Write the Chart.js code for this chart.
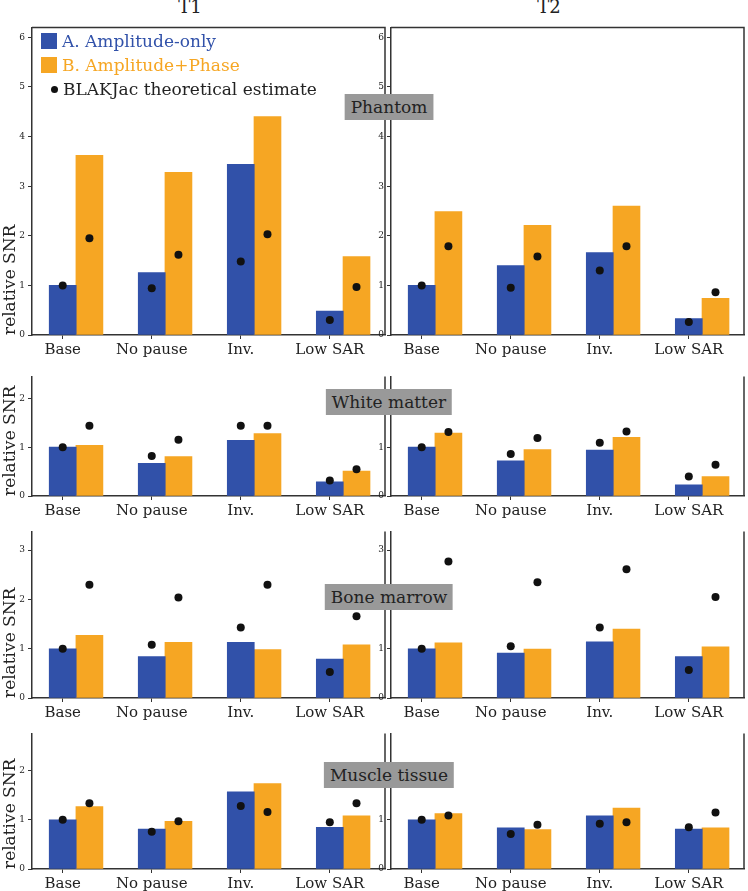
<!DOCTYPE html>
<html>
<head>
<meta charset="UTF-8">
<title>Relative SNR</title>
<script src="https://cdn.jsdelivr.net/npm/chart.js"></script>
<style>
  body {
    margin: 0;
    width: 748px;
    height: 891px;
    position: relative;
    overflow: hidden;
    background: #fff;
    font-family: 'DejaVu Serif', serif;
    color: #222;
  }
  .panel { position: absolute; }
  .coltitle {
    position: absolute;
    top: -3px;
    font-size: 18px;
    line-height: 20px;
    transform: translateX(-50%);
  }
  .tag {
    position: absolute;
    background: #999;
    font-size: 17px;
    height: 26px;
    line-height: 26px;
    padding: 0 6px;
    transform: translateX(-50%);
    white-space: nowrap;
    z-index: 5;
  }
  #legend {
    position: absolute;
    left: 41px;
    top: 33px;
    font-size: 17px;
    z-index: 5;
  }
  .lrow { display: flex; align-items: center; height: 16px; margin-bottom: 8px; }
  .swatch { width: 16px; height: 16px; margin-right: 5px; }
  .dot { width: 7px; height: 7px; border-radius: 50%; background: #111; margin: 0 5px 0 10px; }
</style>
</head>
<body>
  <div class="coltitle" style="left:190px">T1</div>
  <div class="coltitle" style="left:549px">T2</div>
  <div id="legend"></div>

  <script>
    const categories = ['Base', 'No pause', 'Inv.', 'Low SAR'];
    const seriesNames = ['A. Amplitude-only', 'B. Amplitude+Phase', 'BLAKJac theoretical estimate'];
    const tissues = ['Phantom', 'White matter', 'Bone marrow', 'Muscle tissue'];

    // measured relative SNR (bars) and theoretical estimates (dots)
    const phantomT1Amp      = [1.00, 1.26, 3.44, 0.48];
    const phantomT1Phase    = [3.62, 3.28, 4.40, 1.58];
    const phantomT1EstAmp   = [1.00, 0.94, 1.48, 0.30];
    const phantomT1EstPhase = [1.95, 1.62, 2.03, 0.97];
    const phantomT2Amp      = [1.00, 1.40, 1.66, 0.33];
    const phantomT2Phase    = [2.49, 2.21, 2.60, 0.74];
    const phantomT2EstAmp   = [1.00, 0.95, 1.30, 0.26];
    const phantomT2EstPhase = [1.79, 1.58, 1.79, 0.86];

    const wmT1Amp      = [1.00, 0.67, 1.14, 0.29];
    const wmT1Phase    = [1.04, 0.81, 1.28, 0.51];
    const wmT1EstAmp   = [1.00, 0.82, 1.44, 0.32];
    const wmT1EstPhase = [1.44, 1.15, 1.44, 0.55];
    const wmT2Amp      = [1.00, 0.72, 0.94, 0.23];
    const wmT2Phase    = [1.29, 0.95, 1.20, 0.40];
    const wmT2EstAmp   = [1.00, 0.86, 1.09, 0.40];
    const wmT2EstPhase = [1.31, 1.19, 1.32, 0.64];

    const bmT1Amp      = [1.00, 0.84, 1.13, 0.79];
    const bmT1Phase    = [1.27, 1.13, 0.98, 1.08];
    const bmT1EstAmp   = [1.00, 1.08, 1.43, 0.53];
    const bmT1EstPhase = [2.30, 2.04, 2.30, 1.66];
    const bmT2Amp      = [1.00, 0.91, 1.14, 0.84];
    const bmT2Phase    = [1.12, 0.99, 1.40, 1.04];
    const bmT2EstAmp   = [1.00, 1.05, 1.43, 0.57];
    const bmT2EstPhase = [2.77, 2.35, 2.61, 2.05];

    const muT1Amp      = [1.00, 0.81, 1.57, 0.85];
    const muT1Phase    = [1.27, 0.97, 1.74, 1.08];
    const muT1EstAmp   = [1.00, 0.76, 1.28, 0.95];
    const muT1EstPhase = [1.34, 0.97, 1.16, 1.34];
    const muT2Amp      = [1.00, 0.84, 1.08, 0.81];
    const muT2Phase    = [1.13, 0.80, 1.24, 0.84];
    const muT2EstAmp   = [1.00, 0.71, 0.92, 0.85];
    const muT2EstPhase = [1.09, 0.90, 0.95, 1.15];

    const BLUE = '#3151a9';
    const ORANGE = '#f6a623';
    const SHIFT = 0.3;   // orange bar sits one bar width right of the tick
    const FONT = 'DejaVu Serif';

    // plot-area geometry in page pixels
    const rows = [
      { top: 27,  bottom: 335, max: 6.2,  tagTop: 94,  topSpine: true },
      { top: 376, bottom: 496, max: 2.45, tagTop: 389, topSpine: false },
      { top: 531, bottom: 698, max: 3.38, tagTop: 584, topSpine: false },
      { top: 733, bottom: 869, max: 2.76, tagTop: 762, topSpine: false }
    ];
    const cols = [ { left: 32, right: 388 }, { left: 391, right: 747 } ];

    const panelData = [
      [[phantomT1Amp, phantomT1Phase, phantomT1EstAmp, phantomT1EstPhase],
       [phantomT2Amp, phantomT2Phase, phantomT2EstAmp, phantomT2EstPhase]],
      [[wmT1Amp, wmT1Phase, wmT1EstAmp, wmT1EstPhase],
       [wmT2Amp, wmT2Phase, wmT2EstAmp, wmT2EstPhase]],
      [[bmT1Amp, bmT1Phase, bmT1EstAmp, bmT1EstPhase],
       [bmT2Amp, bmT2Phase, bmT2EstAmp, bmT2EstPhase]],
      [[muT1Amp, muT1Phase, muT1EstAmp, muT1EstPhase],
       [muT2Amp, muT2Phase, muT2EstAmp, muT2EstPhase]]
    ];

    const frame = {
      id: 'frame',
      afterDatasetsDraw(chart, args, opts) {
        const a = chart.chartArea;
        const ctx = chart.ctx;
        ctx.save();
        ctx.strokeStyle = '#333';
        ctx.lineWidth = 1.5;
        ctx.beginPath();
        ctx.moveTo(a.right, a.bottom);
        ctx.lineTo(a.right, a.top);
        if (opts.top) ctx.lineTo(a.left, a.top);
        ctx.stroke();
        ctx.restore();
      }
    };

    const PAD_TOP = 8, AXIS_W = 32, AXIS_H = 26, PAD_RIGHT = 1;

    function makePanel(r, c) {
      const row = rows[r], col = cols[c];
      const [amp, phase, estAmp, estPhase] = panelData[r][c];
      const div = document.createElement('div');
      div.className = 'panel';
      const w = col.right - col.left + AXIS_W + PAD_RIGHT;
      const h = row.bottom - row.top + PAD_TOP + AXIS_H;
      div.style.left = (col.left - AXIS_W) + 'px';
      div.style.top = (row.top - PAD_TOP) + 'px';
      const canvas = document.createElement('canvas');
      canvas.width = w;
      canvas.height = h;
      div.appendChild(canvas);
      document.body.appendChild(div);

      const tickGrid = {
        display: true, drawOnChartArea: false, drawTicks: true,
        tickLength: 4, tickColor: '#333', tickWidth: 1, offset: false
      };
      const border = { display: true, color: '#333', width: 1.5 };

      new Chart(canvas, {
        type: 'bar',
        data: {
          datasets: [
            {
              type: 'scatter',
              data: estAmp.map((v, i) => ({ x: i, y: v }))
                .concat(estPhase.map((v, i) => ({ x: i + SHIFT, y: v }))),
              backgroundColor: '#111',
              pointRadius: 4,
              borderWidth: 0,
              order: 0
            },
            {
              label: seriesNames[0],
              data: amp.map((v, i) => ({ x: i, y: v })),
              backgroundColor: BLUE,
              barThickness: 27,
              grouped: false,
              order: 1
            },
            {
              label: seriesNames[1],
              data: phase.map((v, i) => ({ x: i + SHIFT, y: v })),
              backgroundColor: ORANGE,
              barThickness: 27,
              grouped: false,
              order: 1
            }
          ]
        },
        options: {
          responsive: false,
          animation: false,
          layout: { padding: { top: PAD_TOP, right: PAD_RIGHT, left: 0, bottom: 0 } },
          plugins: {
            legend: { display: false },
            tooltip: { enabled: false },
            frame: { top: row.topSpine }
          },
          scales: {
            x: {
              type: 'linear',
              min: -0.345,
              max: 3.62,
              offset: false,
              afterBuildTicks: s => { s.ticks = categories.map((n, i) => ({ value: i })); },
              afterFit: s => { s.height = AXIS_H; },
              ticks: {
                callback: v => categories[v],
                font: { family: FONT, size: 15 },
                color: '#222',
                padding: 2,
                maxRotation: 0,
                autoSkip: false
              },
              grid: tickGrid,
              border: border
            },
            y: {
              min: 0,
              max: row.max,
              afterBuildTicks: s => {
                const t = [];
                for (let v = 0; v <= Math.floor(row.max); v++) t.push({ value: v });
                s.ticks = t;
              },
              afterFit: s => { s.width = AXIS_W; },
              ticks: { font: { family: FONT, size: 9 }, color: '#222', padding: 3 },
              grid: tickGrid,
              border: border,
              title: {
                display: c === 0,
                text: 'relative SNR',
                align: 'start',
                font: { family: FONT, size: 17 },
                color: '#222',
                padding: 0
              }
            }
          }
        },
        plugins: [frame]
      });
    }

    for (let r = 0; r < rows.length; r++) {
      makePanel(r, 0);
      makePanel(r, 1);
      const tag = document.createElement('div');
      tag.className = 'tag';
      tag.textContent = tissues[r];
      tag.style.left = '389px';
      tag.style.top = rows[r].tagTop + 'px';
      document.body.appendChild(tag);
    }

    // legend
    const legend = document.getElementById('legend');
    [BLUE, ORANGE].forEach((col, i) => {
      const row = document.createElement('div');
      row.className = 'lrow';
      row.innerHTML = '<div class="swatch" style="background:' + col + '"></div>' +
        '<span style="color:' + col + '">' + seriesNames[i] + '</span>';
      legend.appendChild(row);
    });
    const dotRow = document.createElement('div');
    dotRow.className = 'lrow';
    dotRow.style.marginTop = '4px';
    dotRow.innerHTML = '<div class="dot"></div><span>' + seriesNames[2] + '</span>';
    legend.appendChild(dotRow);
  </script>
</body>
</html>
